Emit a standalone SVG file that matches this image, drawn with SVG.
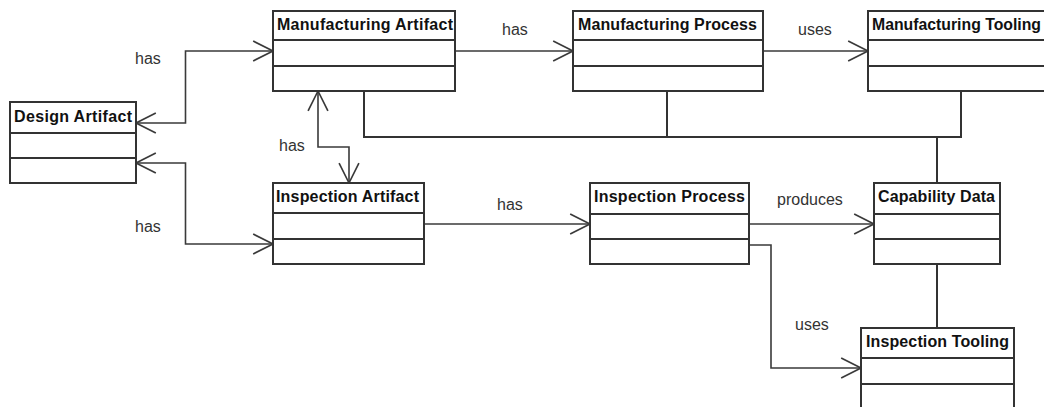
<svg xmlns="http://www.w3.org/2000/svg" width="1044" height="407" viewBox="0 0 1044 407">
<style>
.box{fill:#fff;stroke:#333;stroke-width:2}
.div{stroke:#333;stroke-width:2;fill:none}
.title{font-family:"Liberation Sans",Arial,sans-serif;font-weight:bold;font-size:16px;fill:#111}
.lbl{font-family:"Liberation Sans",Arial,sans-serif;font-size:16px;fill:#333}
.conn{fill:none;stroke:#3a3a3a;stroke-width:1.6}
.bus{fill:none;stroke:#333;stroke-width:2}
</style>
<defs>
<marker id="arr" markerUnits="userSpaceOnUse" markerWidth="24" markerHeight="24" viewBox="-21 -11 23 22" refX="0" refY="0" orient="auto-start-reverse" overflow="visible">
<path d="M-19,-9.5 L0,0 L-19,9.5" fill="none" stroke="#3a3a3a" stroke-width="1.6"/>
</marker>
</defs>
<rect width="1044" height="407" fill="#fff"/>
<g id="connectors">
<path class="conn" d="M136,123 H185.5 V51 H273" marker-start="url(#arr)" marker-end="url(#arr)"/>
<path class="conn" d="M136,163 H185.5 V244 H273" marker-start="url(#arr)" marker-end="url(#arr)"/>
<path class="conn" d="M318,91 V147 H349 V183" marker-start="url(#arr)" marker-end="url(#arr)"/>
<path class="conn" d="M455,51 H573" marker-end="url(#arr)"/>
<path class="conn" d="M763,51 H868" marker-end="url(#arr)"/>
<path class="conn" d="M424,224 H590" marker-end="url(#arr)"/>
<path class="conn" d="M749,224 H874" marker-end="url(#arr)"/>
<path class="conn" d="M749,245 H771 V368 H861" marker-end="url(#arr)"/>
<path class="bus" d="M364,91 V137 H961 V91"/>
<path class="bus" d="M667,91 V137"/>
<path class="bus" d="M937,137 V183"/>
<path class="bus" d="M937,264 V328"/>
<text class="lbl" x="135" y="64">has</text>
<text class="lbl" x="135" y="232">has</text>
<text class="lbl" x="279" y="151">has</text>
<text class="lbl" x="502" y="35">has</text>
<text class="lbl" x="798" y="35">uses</text>
<text class="lbl" x="497" y="210">has</text>
<text class="lbl" x="777" y="205">produces</text>
<text class="lbl" x="795" y="330">uses</text>
</g>
<g id="design-artifact">
<rect class="box" x="10" y="102" width="126" height="81"/>
<path class="div" d="M10,133 H136 M10,158 H136"/>
<text class="title" x="14" y="122" textLength="118" lengthAdjust="spacing">Design Artifact</text>
</g>
<g id="manufacturing-artifact">
<rect class="box" x="273" y="11" width="182" height="80"/>
<path class="div" d="M273,40 H455 M273,66 H455"/>
<text class="title" x="277" y="30" textLength="176" lengthAdjust="spacing">Manufacturing Artifact</text>
</g>
<g id="manufacturing-process">
<rect class="box" x="573" y="11" width="190" height="80"/>
<path class="div" d="M573,40 H763 M573,66 H763"/>
<text class="title" x="578" y="30" textLength="179" lengthAdjust="spacing">Manufacturing Process</text>
</g>
<g id="manufacturing-tooling">
<rect class="box" x="868" y="11" width="200" height="80"/>
<path class="div" d="M868,40 H1068 M868,66 H1068"/>
<text class="title" x="872" y="30" textLength="169" lengthAdjust="spacingAndGlyphs">Manufacturing Tooling</text>
</g>
<g id="inspection-artifact">
<rect class="box" x="273" y="183" width="151" height="81"/>
<path class="div" d="M273,213 H424 M273,239 H424"/>
<text class="title" x="276" y="202" textLength="143" lengthAdjust="spacing">Inspection Artifact</text>
</g>
<g id="inspection-process">
<rect class="box" x="590" y="183" width="159" height="81"/>
<path class="div" d="M590,214 H749 M590,239 H749"/>
<text class="title" x="594" y="202" textLength="151" lengthAdjust="spacing">Inspection Process</text>
</g>
<g id="capability-data">
<rect class="box" x="874" y="183" width="126" height="81"/>
<path class="div" d="M874,214 H1000 M874,239 H1000"/>
<text class="title" x="878" y="202" textLength="117" lengthAdjust="spacing">Capability Data</text>
</g>
<g id="inspection-tooling">
<rect class="box" x="861" y="328" width="153" height="90"/>
<path class="div" d="M861,358 H1014 M861,384 H1014"/>
<text class="title" x="866" y="347" textLength="143" lengthAdjust="spacing">Inspection Tooling</text>
</g>
</svg>
